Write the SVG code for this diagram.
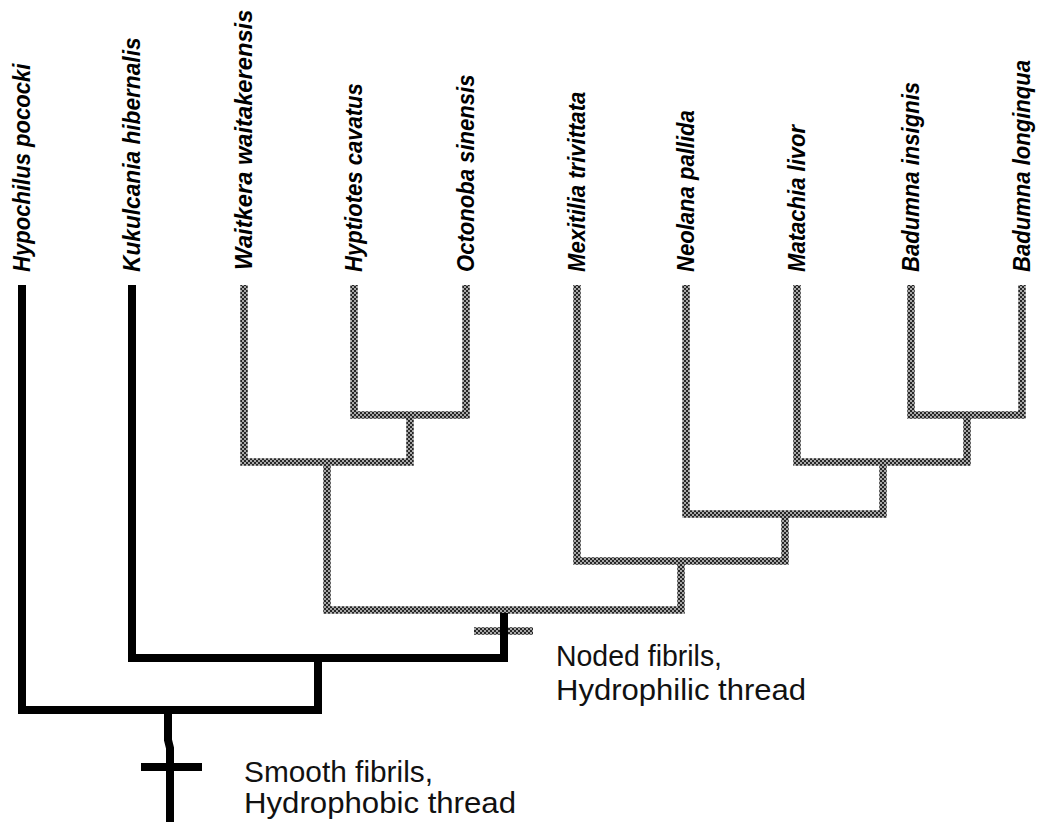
<svg xmlns="http://www.w3.org/2000/svg" width="1047" height="825" viewBox="0 0 1047 825">
<defs>
<pattern id="hatch" patternUnits="userSpaceOnUse" width="4" height="4">
<rect width="4" height="4" fill="#a8a8a8"/>
<rect x="0" y="0" width="2" height="2" fill="#262626"/>
<rect x="2" y="2" width="2" height="2" fill="#262626"/>
</pattern>
</defs>
<style>
.lab{font-family:"Liberation Sans",Arial,sans-serif;font-size:24px;font-weight:bold;font-style:italic;fill:#000}
.note{font-family:"Liberation Sans",Arial,sans-serif;font-size:30px;fill:#111}
.blk{fill:none;stroke:#000;stroke-width:8;stroke-linejoin:miter}
.hat{fill:none;stroke:url(#hatch);stroke-width:7.5;stroke-linejoin:miter}
</style>
<rect width="1047" height="825" fill="#fff"/>
<g id="connectors">
<path class="hat" d="M244,285 V462 H410 V415"/>
<path class="hat" d="M354,285 V415 H466 V285"/>
<path class="hat" d="M327,462 V610 H681 V561"/>
<path class="hat" d="M577,285 V561 H785 V514"/>
<path class="hat" d="M686,285 V514 H883 V462"/>
<path class="hat" d="M797,285 V462 H967 V415"/>
<path class="hat" d="M911,285 V415 H1022 V285"/>
<path class="hat" d="M474,631 H533"/>
<path class="blk" d="M22,285 V710 H318 V658"/>
<path class="blk" d="M132,285 V658 H504 V613"/>
<path class="blk" d="M168,710 V740 L170,748 V822"/>
<path class="blk" d="M141,767 H202"/>
</g>
<g id="node-hypochilus"><text class="lab" transform="translate(30,272) rotate(-90) scale(0.92,1)">Hypochilus pococki</text></g>
<g id="node-kukulcania"><text class="lab" transform="translate(140,272) rotate(-90) scale(0.92,1)" textLength="255" lengthAdjust="spacingAndGlyphs">Kukulcania hibernalis</text></g>
<g id="node-waitkera"><text class="lab" transform="translate(252,270) rotate(-90) scale(0.92,1)" textLength="283" lengthAdjust="spacingAndGlyphs">Waitkera waitakerensis</text></g>
<g id="node-hyptiotes"><text class="lab" transform="translate(362,272) rotate(-90) scale(0.92,1)">Hyptiotes cavatus</text></g>
<g id="node-octonoba"><text class="lab" transform="translate(474,272) rotate(-90) scale(0.92,1)">Octonoba sinensis</text></g>
<g id="node-mexitilia"><text class="lab" transform="translate(585,272) rotate(-90) scale(0.92,1)">Mexitilia trivittata</text></g>
<g id="node-neolana"><text class="lab" transform="translate(694,272) rotate(-90) scale(0.92,1)">Neolana pallida</text></g>
<g id="node-matachia"><text class="lab" transform="translate(805,272) rotate(-90) scale(0.92,1)">Matachia livor</text></g>
<g id="node-badumna-insignis"><text class="lab" transform="translate(919,272) rotate(-90) scale(0.92,1)">Badumna insignis</text></g>
<g id="node-badumna-longinqua"><text class="lab" transform="translate(1030,272) rotate(-90) scale(0.92,1)">Badumna longinqua</text></g>
<g id="note-noded"><text class="note" x="556" y="666" textLength="166" lengthAdjust="spacingAndGlyphs">Noded fibrils,</text><text class="note" x="556" y="700" textLength="250" lengthAdjust="spacingAndGlyphs">Hydrophilic thread</text></g>
<g id="note-smooth"><text class="note" x="244" y="782" textLength="189" lengthAdjust="spacingAndGlyphs">Smooth fibrils,</text><text class="note" x="244" y="813" textLength="272" lengthAdjust="spacingAndGlyphs">Hydrophobic thread</text></g>
</svg>
